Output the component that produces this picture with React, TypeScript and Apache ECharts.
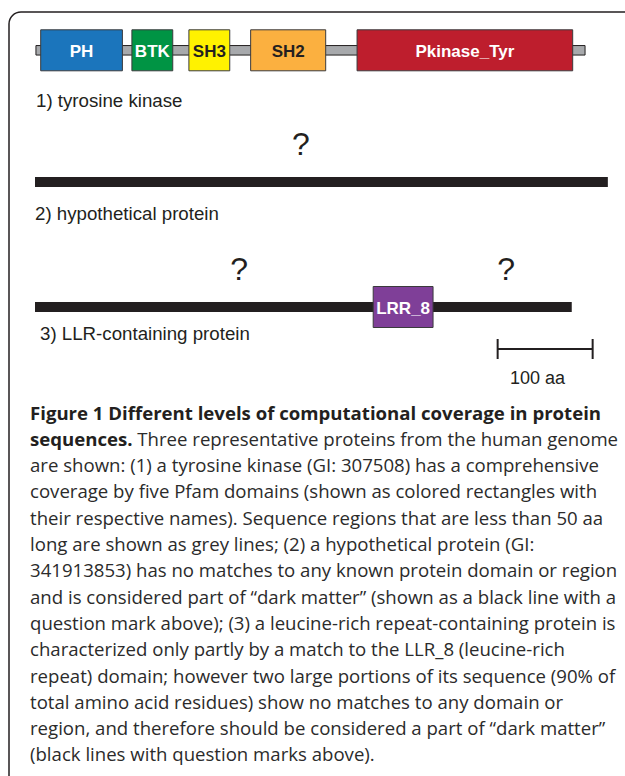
import React, { useEffect, useRef } from "react";
import * as echarts from "echarts";

// ---------- data (amino-acid positions) ----------
const proteinLabels = ["1) tyrosine kinase", "2) hypothetical protein", "3) LLR-containing protein"];
const backboneStarts = [1, 0, 0];
const backboneEnds = [579, 603, 565];
const backboneKinds = ["short", "dark", "dark"]; // grey = short linkers (<50 aa), black = "dark matter"

const domainNames = ["PH", "BTK", "SH3", "SH2", "Pkinase_Tyr", "LRR_8"];
const domainProtein = [0, 0, 0, 0, 0, 2];
const domainStarts = [6, 102, 162, 227, 339, 356];
const domainEnds = [92, 145, 205, 306, 566, 419];

const unknownProtein = [1, 2, 2];
const unknownPositions = [280, 215, 496];

const scaleBarStart = 487;
const scaleBarLength = 100;
const scaleBarLabel = "100 aa";

const captionTitle = "Figure 1 Different levels of computational coverage in protein";
const captionLead = "sequences.";
const captionLines = [
  " Three representative proteins from the human genome",
  "are shown: (1) a tyrosine kinase (GI: 307508) has a comprehensive",
  "coverage by five Pfam domains (shown as colored rectangles with",
  "their respective names). Sequence regions that are less than 50 aa",
  "long are shown as grey lines; (2) a hypothetical protein (GI:",
  "341913853) has no matches to any known protein domain or region",
  "and is considered part of \u201cdark matter\u201d (shown as a black line with a",
  "question mark above); (3) a leucine-rich repeat-containing protein is",
  "characterized only partly by a match to the LLR_8 (leucine-rich",
  "repeat) domain; however two large portions of its sequence (90% of",
  "total amino acid residues) show no matches to any domain or",
  "region, and therefore should be considered a part of \u201cdark matter\u201d",
  "(black lines with question marks above).",
];

// ---------- styles / layout ----------
const INK = "#231f20";
const TEXT_INK = "#2b2b2b";
const DOMAIN_STYLE: Record<string, { fill: string; text: string }> = {
  PH: { fill: "#1b75bc", text: "#ffffff" },
  BTK: { fill: "#009444", text: "#ffffff" },
  SH3: { fill: "#fff200", text: INK },
  SH2: { fill: "#fbb040", text: INK },
  Pkinase_Tyr: { fill: "#be1e2d", text: "#ffffff" },
  LRR_8: { fill: "#7f3f98", text: "#ffffff" },
};
const TRACK_CENTERS = [50.3, 182, 307, 349];
const LABEL_POS = [
  [36, 100],
  [35, 213],
  [40, 333],
];
const SANS = "'Liberation Sans', Arial, sans-serif";
const CAPTION_FONT = "'Open Sans', sans-serif";
const CAPTION_SIZE = 18.6;
const LABEL_SIZE = 18.7;

export default function App() {
  const ref = useRef<HTMLDivElement>(null);

  useEffect(() => {
    document.body.style.margin = "0";
    if (!ref.current) return;
    const chart = echarts.init(ref.current, undefined, { renderer: "svg" });

    const grids = TRACK_CENTERS.map((c) => ({ left: 35, width: 570, top: c - 10, height: 20 }));
    const xAxes = TRACK_CENTERS.map((_, i) => ({ type: "value", gridIndex: i, min: 0, max: 600, show: false }));
    const yAxes = TRACK_CENTERS.map((_, i) => ({ type: "value", gridIndex: i, min: -1, max: 1, show: false }));

    const series: any[] = [];

    // backbones
    proteinLabels.forEach((_, p) => {
      const kind = backboneKinds[p];
      series.push({
        type: "custom",
        name: "backbone" + p,
        xAxisIndex: p,
        yAxisIndex: p,
        z: 1,
        data: [[backboneStarts[p], backboneEnds[p]]],
        renderItem: (params: any, api: any) => {
          const s = api.coord([api.value(0), 0]);
          const e = api.coord([api.value(1), 0]);
          const h = kind === "short" ? 9.5 : 9.8;
          return {
            type: "rect",
            shape: { x: s[0], y: s[1] - h / 2, width: e[0] - s[0], height: h },
            style:
              kind === "short"
                ? { fill: "#a7a9ac", stroke: INK, lineWidth: 1 }
                : { fill: INK, stroke: "none" },
          };
        },
      });
    });

    // domains
    proteinLabels.forEach((_, p) => {
      const idx = domainNames.map((_, i) => i).filter((i) => domainProtein[i] === p);
      if (!idx.length) return;
      series.push({
        type: "custom",
        name: "domains" + p,
        xAxisIndex: p,
        yAxisIndex: p,
        z: 2,
        data: idx.map((i) => [domainStarts[i], domainEnds[i]]),
        renderItem: (params: any, api: any) => {
          const name = domainNames[idx[params.dataIndex]];
          const st = DOMAIN_STYLE[name];
          const s = api.coord([api.value(0), 0]);
          const e = api.coord([api.value(1), 0]);
          const h = 41;
          return {
            type: "group",
            children: [
              {
                type: "rect",
                shape: { x: s[0], y: s[1] - h / 2, width: e[0] - s[0], height: h },
                style: { fill: st.fill, stroke: "#3a3a3c", lineWidth: 1 },
              },
              {
                type: "text",
                x: (s[0] + e[0]) / 2,
                y: s[1] + 1,
                style: {
                  text: name,
                  fill: st.text,
                  fontSize: 17,
                  fontWeight: "bold",
                  fontFamily: SANS,
                  align: "center",
                  verticalAlign: "middle",
                },
              },
            ],
          };
        },
      });
    });

    // question marks above unknown regions
    proteinLabels.forEach((_, p) => {
      const idx = unknownProtein.map((_, i) => i).filter((i) => unknownProtein[i] === p);
      if (!idx.length) return;
      series.push({
        type: "custom",
        name: "unknown" + p,
        xAxisIndex: p,
        yAxisIndex: p,
        z: 3,
        data: idx.map((i) => [unknownPositions[i]]),
        renderItem: (params: any, api: any) => {
          const c = api.coord([api.value(0), 0]);
          return {
            type: "text",
            x: c[0],
            y: c[1] - 38,
            style: {
              text: "?",
              fill: INK,
              fontSize: 32,
              fontFamily: SANS,
              align: "center",
              verticalAlign: "middle",
            },
          };
        },
      });
    });

    // scale bar
    series.push({
      type: "custom",
      name: "scale",
      xAxisIndex: 3,
      yAxisIndex: 3,
      z: 3,
      data: [[scaleBarStart, scaleBarStart + scaleBarLength]],
      renderItem: (params: any, api: any) => {
        const s = api.coord([api.value(0), 0]);
        const e = api.coord([api.value(1), 0]);
        const ls = { stroke: INK, lineWidth: 2 };
        return {
          type: "group",
          children: [
            { type: "line", shape: { x1: s[0], y1: s[1], x2: e[0], y2: e[1] }, style: ls },
            { type: "line", shape: { x1: s[0], y1: s[1] - 10, x2: s[0], y2: s[1] + 10 }, style: ls },
            { type: "line", shape: { x1: e[0], y1: e[1] - 10, x2: e[0], y2: e[1] + 10 }, style: ls },
          ],
        };
      },
    });

    const graphic: any[] = [
      {
        type: "rect",
        z: 0,
        shape: { x: 9, y: 12, width: 700, height: 900, r: 12 },
        style: { fill: "none", stroke: INK, lineWidth: 1.5 },
      },
      ...proteinLabels.map((t, i) => ({
        type: "text",
        x: LABEL_POS[i][0],
        y: LABEL_POS[i][1],
        style: { text: t, fill: INK, fontSize: LABEL_SIZE, fontFamily: SANS, align: "left", verticalAlign: "middle" },
      })),
      {
        type: "text",
        x: 510,
        y: 378,
        style: { text: scaleBarLabel, fill: INK, fontSize: 18, fontFamily: SANS, align: "left", verticalAlign: "middle" },
      },
      {
        type: "text",
        x: 30,
        y: 412,
        style: {
          text: captionTitle,
          fill: INK,
          fontSize: CAPTION_SIZE,
          fontWeight: "bold",
          fontFamily: CAPTION_FONT,
          align: "left",
          verticalAlign: "middle",
        },
      },
      ...captionLines.map((t, i) => ({
        type: "text",
        x: 30,
        y: 412 + (i + 1) * 26.3,
        style: {
          text: i === 0 ? "{b|" + captionLead + "}" + t : t,
          fill: TEXT_INK,
          fontSize: CAPTION_SIZE,
          fontFamily: CAPTION_FONT,
          align: "left",
          verticalAlign: "middle",
          rich: {
            b: { fontWeight: "bold", fontSize: CAPTION_SIZE, fontFamily: CAPTION_FONT, fill: INK },
          },
        },
      })),
    ];

    chart.setOption({
      animation: false,
      backgroundColor: "#ffffff",
      grid: grids,
      xAxis: xAxes,
      yAxis: yAxes,
      series,
      graphic,
    });

    return () => chart.dispose();
  }, []);

  return <div ref={ref} style={{ width: 625, height: 776 }} />;
}
